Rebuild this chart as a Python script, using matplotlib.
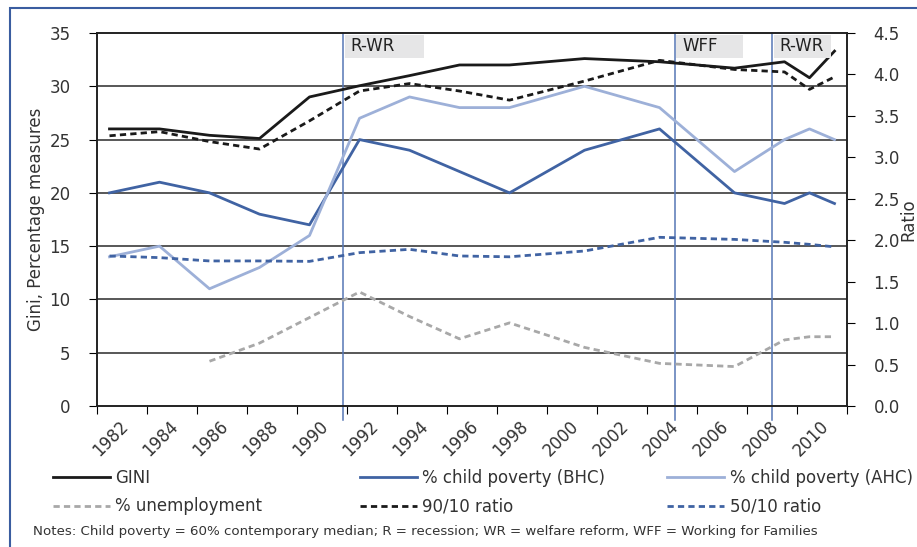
import matplotlib
matplotlib.use('Agg')
import matplotlib.pyplot as plt
import numpy as np
from matplotlib.patches import Rectangle

plt.rcParams['font.family'] = ['DejaVu Sans']
plt.rcParams['lines.scale_dashes'] = False

# data
years = [1982, 1984, 1986, 1988, 1990, 1992, 1994, 1996, 1998, 2001, 2004, 2007, 2009, 2010, 2011]
gini = [26.0, 26.0, 25.4, 25.1, 29.0, 30.05, 31.0, 32.0, 32.0, 32.6, 32.3, 31.7, 32.3, 30.8, 33.3]
bhc = [20.0, 21.0, 20.0, 18.0, 17.0, 25.0, 24.0, 22.0, 20.0, 24.0, 26.0, 20.0, 19.0, 20.0, 19.0]
ahc = [14.0, 15.0, 11.0, 13.0, 16.0, 27.0, 29.0, 28.0, 28.0, 30.0, 28.0, 22.0, 25.0, 26.0, 25.0]
ratio_90_10 = [3.26, 3.31, 3.19, 3.10, 3.44, 3.80, 3.89, 3.80, 3.69, 3.92, 4.17, 4.06, 4.03, 3.82, 3.97]
ratio_50_10 = [1.81, 1.79, 1.75, 1.75, 1.745, 1.85, 1.89, 1.81, 1.80, 1.87, 2.035, 2.01, 1.975, 1.95, 1.92]
unemp_years = [1986, 1988, 1990, 1992, 1994, 1996, 1998, 2001, 2004, 2007, 2009, 2010, 2011]
unemployment = [4.2, 5.9, 8.3, 10.7, 8.4, 6.3, 7.8, 5.5, 4.0, 3.7, 6.2, 6.5, 6.5]

tick_labels = ['1982', '1984', '1986', '1988', '1990', '1992', '1994', '1996',
               '1998', '2000', '2002', '2004', '2006', '2008', '2010']

events = ['R-WR', 'WFF', 'R-WR']
event_x = [1991.33, 2004.6, 2008.48]

black = '#1a1a1a'
blue = '#4063a3'
light = '#9db0d8'
grey = '#a8a8a8'
vcol = '#5677b5'
txt = '#333333'
fs = 12

fig = plt.figure(figsize=(9.17, 5.47), dpi=100)
ax = fig.add_axes([97/917, 1-406/547, 750/917, 373/547])
ax2 = ax.twinx()

ax.set_xlim(1981.5, 2011.5)
ax.set_ylim(0, 35)
ax2.set_ylim(0, 4.5)

# grid on left scale
for v in range(5, 35, 5):
    ax.axhline(v, color='#4a4a4a', lw=1.3, zorder=1)

# event lines
for ex in event_x:
    ax.plot([ex, ex], [-1.3, 35], color=vcol, lw=1.1, clip_on=False, zorder=2)

l_gini, = ax.plot(years, gini, color=black, lw=2, zorder=4, label='GINI')
l_bhc, = ax.plot(years, bhc, color=blue, lw=2, zorder=4, label='% child poverty (BHC)')
l_ahc, = ax.plot(years, ahc, color=light, lw=2, zorder=4, label='% child poverty (AHC)')
l_un, = ax.plot(unemp_years, unemployment, color=grey, lw=2, dashes=(4.5, 3), zorder=4,
                label='% unemployment')
l_90, = ax2.plot(years, ratio_90_10, color=black, lw=2, dashes=(4.5, 3), zorder=4,
                 label='90/10 ratio')
l_50, = ax2.plot(years, ratio_50_10, color=blue, lw=2, dashes=(4.5, 3), zorder=4,
                 label='50/10 ratio')

# event boxes
box_w = [3.15, 2.65, 2.3]
for name, ex, w in zip(events, event_x, box_w):
    ax.add_patch(Rectangle((ex + 0.08, 32.65), w, 2.15, facecolor='#e6e6e7',
                           edgecolor='none', zorder=5))
    ax.text(ex + 0.3, 33.75, name, fontsize=fs, color='#222222', va='center', ha='left', zorder=6)

# axes styling
for a in (ax, ax2):
    for s in a.spines.values():
        s.set_color('#222222')
        s.set_linewidth(1.2)
ax.set_yticks(np.arange(0, 36, 5))
ax.tick_params(axis='y', direction='out', length=6, pad=13, labelsize=fs, labelcolor=txt)
ax2.set_yticks(np.arange(0, 4.51, 0.5))
ax2.set_yticklabels([f'{v:.1f}' for v in np.arange(0, 4.51, 0.5)])
ax2.tick_params(axis='y', direction='out', length=6, pad=13, labelsize=fs, labelcolor=txt)

ax.set_xticks(np.arange(1981.5, 2012, 2))
ax.set_xticklabels([])
ax.tick_params(axis='x', which='major', direction='out', length=6)
label_pos = [int(t) + 0.4 for t in tick_labels]
ax.set_xticks(label_pos, minor=True)
ax.set_xticklabels(tick_labels, minor=True, rotation=45, ha='right', va='top',
                   rotation_mode='anchor', fontsize=fs, color=txt)
ax.tick_params(axis='x', which='minor', length=0, pad=8)

fig.text(36/917, 1-219/547, 'Gini, Percentage measures', rotation=90, ha='center',
         va='center', fontsize=fs, color=txt)
fig.text(908/917, 1-220/547, 'Ratio', rotation=90, ha='center', va='center',
         fontsize=fs, color=txt)

# legend in three columns
cols = [([l_gini, l_un], 53), ([l_bhc, l_90], 360), ([l_ahc, l_50], 667)]
for handles, xpix in cols:
    leg = fig.legend(handles=handles, loc='upper left',
                     bbox_to_anchor=(xpix/917, 1-469/547), frameon=False,
                     fontsize=fs, handlelength=3.4, handletextpad=0.35,
                     labelspacing=0.62, borderaxespad=0, borderpad=0)
    for t in leg.get_texts():
        t.set_color(txt)

fig.text(33/917, 1-532/547,
         'Notes: Child poverty = 60% contemporary median; R = recession; '
         'WR = welfare reform, WFF = Working for Families',
         fontsize=9.6, color=txt, ha='left', va='center')

# frame around the figure
fig.patches.append(Rectangle((10/917, -0.05), 1.0, 1-8/547+0.05, transform=fig.transFigure,
                             facecolor='none', edgecolor='#3a5da0', lw=1.5))

fig.savefig('out.png', dpi=100)
